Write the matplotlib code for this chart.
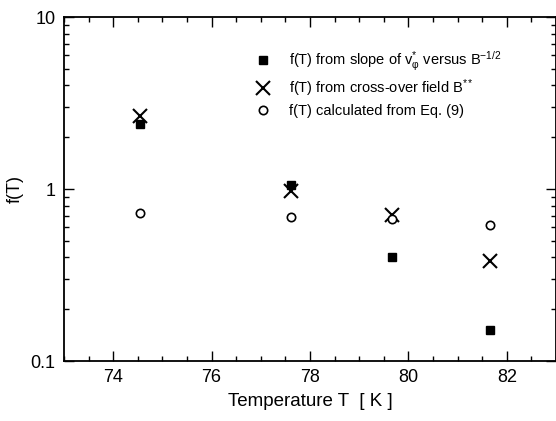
import matplotlib
matplotlib.use("Agg")
import matplotlib.pyplot as plt
from matplotlib.ticker import LogLocator, MultipleLocator, NullFormatter, FixedLocator, FixedFormatter

plt.rcParams['font.family'] = ['Liberation Sans', 'DejaVu Sans']
plt.rcParams['mathtext.fontset'] = 'custom'
plt.rcParams['mathtext.rm'] = 'Liberation Sans'
plt.rcParams['mathtext.it'] = 'Liberation Sans:italic'

temps = [74.55, 77.62, 79.67, 81.66]
f_slope = [2.38, 1.05, 0.40, 0.151]
f_cross = [2.65, 0.98, 0.71, 0.38]
f_eq9 = [0.73, 0.69, 0.665, 0.62]

xticks = [74, 76, 78, 80, 82]
yticks = [0.1, 1, 10]
ytick_labels = ['0.1', '1', '10']

fig = plt.figure(figsize=(5.56, 4.21), dpi=100)
ax = fig.add_axes([64/556, 1 - 361/421, (556 - 64)/556, (361 - 17)/421])

ax.plot(temps, f_slope, linestyle='none', marker='s', ms=6, color='black',
        label=r'f(T) from slope of $\mathregular{v_{\varphi}^{*}}$ versus B$^{-1/2}$')
ax.plot(temps, f_cross, linestyle='none', marker='x', ms=10, mew=1.5, color='black',
        label=r'f(T) from cross-over field B$^{**}$')
ax.plot(temps, f_eq9, linestyle='none', marker='o', ms=6, mfc='white', mec='black', mew=1.2,
        label='f(T) calculated from Eq. (9)')

ax.set_yscale('log')
ax.set_xlim(73, 83)
ax.set_ylim(0.1, 10)

ax.xaxis.set_major_locator(FixedLocator(xticks))
ax.xaxis.set_minor_locator(MultipleLocator(0.5))
ax.yaxis.set_major_locator(FixedLocator(yticks))
ax.yaxis.set_major_formatter(FixedFormatter(ytick_labels))
ax.yaxis.set_minor_locator(LogLocator(base=10, subs=range(2, 10)))
ax.yaxis.set_minor_formatter(NullFormatter())

ax.tick_params(which='both', direction='in', top=True, right=True, labelsize=13, width=1.0)
ax.tick_params(which='major', length=7, pad=6)
ax.tick_params(which='minor', length=3.5)
for s in ax.spines.values():
    s.set_linewidth(1.3)

ax.set_xlabel('Temperature T  [ K ]', fontsize=13.5, labelpad=5)
ax.set_ylabel('f(T)', fontsize=13)
ax.yaxis.set_label_coords(-0.082, 0.5)

ax.legend(loc='upper left', bbox_to_anchor=(0.375, 0.905), frameon=False, fontsize=10.5,
          handletextpad=0.8, labelspacing=0.3, borderaxespad=0, borderpad=0)

fig.savefig('out.png', dpi=100)
